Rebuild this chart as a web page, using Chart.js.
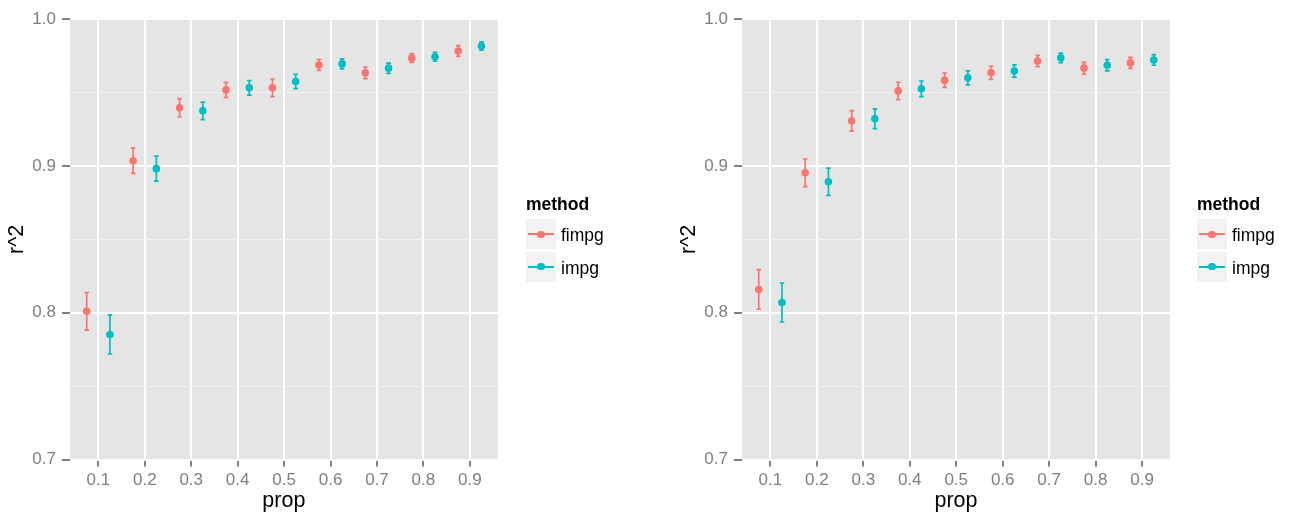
<!DOCTYPE html>
<html>
<head>
<meta charset="utf-8">
<script src="https://cdn.jsdelivr.net/npm/chart.js@4/dist/chart.umd.min.js"></script>
<style>
  html, body { margin: 0; padding: 0; background: #ffffff; }
  body { width: 1293px; height: 519px; position: relative; overflow: hidden;
         font-family: "Liberation Sans", Arial, sans-serif; }
  .panel { position: absolute; top: 0; height: 519px; }
  .legend { position: absolute; top: 0; }
  .legend-title { position: absolute; left: 0; top: 196px; font-weight: bold;
                  font-size: 17.5px; line-height: 17.5px; color: #000; white-space: nowrap; }
  .key { position: absolute; left: 0; width: 30px; height: 30px; background: #F2F2F2; }
  .key .ln { position: absolute; left: 2px; right: 2px; top: 14px; height: 2px; }
  .key .dot { position: absolute; left: 11.3px; top: 11.3px; width: 7.4px; height: 7.4px; border-radius: 50%; }
  .key-label { position: absolute; left: 35px; height: 30px; line-height: 32px;
               font-size: 17.5px; color: #000; white-space: nowrap; }
</style>
</head>
<body>
<div class="panel" id="wrapA" style="left:0px;width:650px;"><canvas id="chartA"></canvas></div>
<div class="panel" id="wrapB" style="left:672px;width:621px;"><canvas id="chartB"></canvas></div>
<div class="legend" id="legendA" style="left:526px;"></div>
<div class="legend" id="legendB" style="left:1197px;"></div>
<script>
// Proportions on the x axis
const props = [0.1, 0.2, 0.3, 0.4, 0.5, 0.6, 0.7, 0.8, 0.9];
const xTickLabels = ['0.1', '0.2', '0.3', '0.4', '0.5', '0.6', '0.7', '0.8', '0.9'];
const yMajorTicks = [0.7, 0.8, 0.9, 1.0];
const yMinorTicks = [0.75, 0.85, 0.95];
const methods = ['fimpg', 'impg'];

// Left panel: mean r^2 and half-width of its error bar
const fimpgA    = [0.801, 0.9036, 0.9397, 0.9519, 0.9533, 0.9689, 0.9635, 0.9737, 0.9784];
const fimpgErrA = [0.0128, 0.0086, 0.0063, 0.0051, 0.0060, 0.0037, 0.0040, 0.0030, 0.0037];
const impgA     = [0.7852, 0.8982, 0.9376, 0.9533, 0.9576, 0.9696, 0.9667, 0.9744, 0.9818];
const impgErrA  = [0.0133, 0.0085, 0.0060, 0.0050, 0.0049, 0.0034, 0.0035, 0.0030, 0.0028];

// Right panel
const fimpgB    = [0.8159, 0.8954, 0.9308, 0.9512, 0.9585, 0.9635, 0.9716, 0.9667, 0.9703];
const fimpgErrB = [0.0135, 0.0094, 0.0070, 0.0059, 0.0049, 0.0045, 0.0038, 0.0040, 0.0037];
const impgB     = [0.8070, 0.8893, 0.9322, 0.9526, 0.9601, 0.9648, 0.9737, 0.9687, 0.9723];
const impgErrB  = [0.0133, 0.0093, 0.0067, 0.0053, 0.0048, 0.0042, 0.0033, 0.0038, 0.0036];

const COLORS = { fimpg: '#F8766D', impg: '#00BFC4' };
const DODGE = 0.025;       // horizontal offset of each method around its prop
const CAP_HALF = 0.005;    // half width of error bar caps, in x units
const FONT = '"Liberation Sans", Arial, sans-serif';
const GREY_TEXT = '#7F7F7F';

function isMajorY(v) { return yMajorTicks.some(t => Math.abs(t - v) < 1e-9); }

function buildPoints(means, errs, offset) {
  return props.map((p, i) => ({ x: p + offset, y: means[i], lo: means[i] - errs[i], hi: means[i] + errs[i] }));
}

// Grey panel background
const panelBg = {
  id: 'panelBg',
  beforeDraw(chart) {
    const { ctx, chartArea: a } = chart;
    ctx.save();
    ctx.fillStyle = '#E5E5E5';
    ctx.fillRect(a.left, a.top, a.right - a.left, a.bottom - a.top);
    ctx.restore();
  }
};

// Vertical error bars with small caps, drawn beneath the points
const errorBars = {
  id: 'errorBars',
  beforeDatasetsDraw(chart) {
    const { ctx, scales: { x, y } } = chart;
    ctx.save();
    ctx.lineWidth = 1.7;
    chart.data.datasets.forEach(ds => {
      ctx.strokeStyle = ds.borderColor;
      ds.data.forEach(d => {
        const px = x.getPixelForValue(d.x);
        const c0 = x.getPixelForValue(d.x - CAP_HALF);
        const c1 = x.getPixelForValue(d.x + CAP_HALF);
        const yl = y.getPixelForValue(d.lo);
        const yh = y.getPixelForValue(d.hi);
        ctx.beginPath();
        ctx.moveTo(px, yl); ctx.lineTo(px, yh);
        ctx.moveTo(c0, yl); ctx.lineTo(c1, yl);
        ctx.moveTo(c0, yh); ctx.lineTo(c1, yh);
        ctx.stroke();
      });
    });
    ctx.restore();
  }
};

function makeChart(canvasId, fimpg, fimpgErr, impg, impgErr, padRight) {
  const ctx = document.getElementById(canvasId);
  return new Chart(ctx, {
    type: 'scatter',
    data: {
      datasets: [
        { label: methods[0], data: buildPoints(fimpg, fimpgErr, -DODGE),
          backgroundColor: COLORS.fimpg, borderColor: COLORS.fimpg, pointRadius: 3.8, pointBorderWidth: 0 },
        { label: methods[1], data: buildPoints(impg, impgErr, DODGE),
          backgroundColor: COLORS.impg, borderColor: COLORS.impg, pointRadius: 3.8, pointBorderWidth: 0 }
      ]
    },
    options: {
      responsive: true,
      maintainAspectRatio: false,
      animation: false,
      events: [],
      layout: { padding: { left: 0, right: padRight, top: 19.3, bottom: 0 } },
      plugins: { legend: { display: false }, tooltip: { enabled: false } },
      scales: {
        x: {
          type: 'linear',
          min: 0.039, max: 0.96,
          afterBuildTicks(scale) { scale.ticks = props.map(v => ({ value: v })); },
          afterFit(scale) { scale.height = 519 - 459.5; },
          border: { display: false },
          grid: { color: '#FFFFFF', lineWidth: 2, tickColor: GREY_TEXT, tickLength: 7, drawOnChartArea: true },
          ticks: {
            autoSkip: false, maxRotation: 0, padding: 4,
            color: GREY_TEXT, font: { family: FONT, size: 17 },
            callback(v) { const i = props.findIndex(p => Math.abs(p - v) < 1e-9); return i >= 0 ? xTickLabels[i] : ''; }
          },
          title: { display: true, text: 'prop', color: '#000', font: { family: FONT, size: 21.5 }, padding: { top: 0, bottom: 5 } }
        },
        y: {
          type: 'linear',
          min: 0.7, max: 1.0,
          afterBuildTicks(scale) {
            scale.ticks = yMajorTicks.concat(yMinorTicks).sort((a, b) => a - b).map(v => ({ value: v }));
          },
          afterFit(scale) { scale.width = 70; },
          border: { display: false },
          grid: {
            color: c => isMajorY(c.tick.value) ? '#FFFFFF' : '#F2F2F2',
            lineWidth: c => isMajorY(c.tick.value) ? 2 : 1,
            tickColor: c => isMajorY(c.tick.value) ? GREY_TEXT : 'rgba(0,0,0,0)',
            tickLength: 8
          },
          ticks: {
            autoSkip: false, padding: 6,
            color: GREY_TEXT, font: { family: FONT, size: 17 },
            callback(v) { return isMajorY(v) ? v.toFixed(1) : ''; }
          },
          title: { display: true, text: 'r^2', color: '#000', font: { family: FONT, size: 21.5 }, padding: { top: 4, bottom: 0 } }
        }
      }
    },
    plugins: [panelBg, errorBars]
  });
}

makeChart('chartA', fimpgA, fimpgErrA, impgA, impgErrA, 650 - 497.7);
makeChart('chartB', fimpgB, fimpgErrB, impgB, impgErrB, 621 - 498);

// ggplot-style legend: title, grey key boxes with a line and a dot
function buildLegend(id) {
  const el = document.getElementById(id);
  const title = document.createElement('div');
  title.className = 'legend-title';
  title.textContent = 'method';
  el.appendChild(title);
  const keyTops = [219.3, 251.5];
  methods.forEach((m, i) => {
    const key = document.createElement('div');
    key.className = 'key';
    key.style.top = keyTops[i] + 'px';
    const ln = document.createElement('div'); ln.className = 'ln'; ln.style.background = COLORS[m];
    const dot = document.createElement('div'); dot.className = 'dot'; dot.style.background = COLORS[m];
    key.appendChild(ln); key.appendChild(dot);
    el.appendChild(key);
    const lab = document.createElement('div');
    lab.className = 'key-label';
    lab.style.top = keyTops[i] + 'px';
    lab.textContent = m;
    el.appendChild(lab);
  });
}
buildLegend('legendA');
buildLegend('legendB');
</script>
</body>
</html>
